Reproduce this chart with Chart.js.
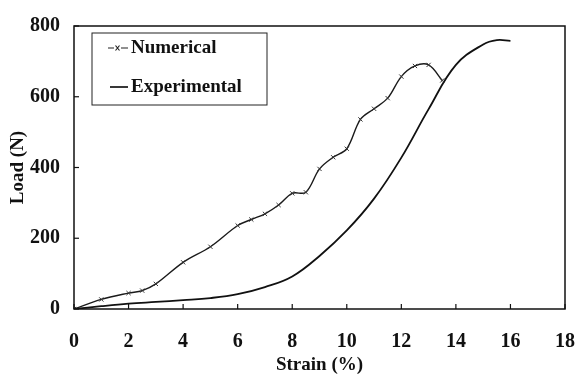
<!DOCTYPE html>
<html>
<head>
<meta charset="utf-8">
<script src="https://cdn.jsdelivr.net/npm/chart.js@4/dist/chart.umd.min.js"></script>
<style>
  html, body { margin: 0; padding: 0; background: #fff; }
  #wrap { width: 575px; height: 374px; position: relative; }
</style>
</head>
<body>
<div id="wrap"><canvas id="chart" width="575" height="374"></canvas></div>
<script>
// ---- data ----
const numStrain = [0, 1, 2, 2.5, 3, 4, 5, 6, 6.5, 7, 7.5, 8, 8.5, 9, 9.5, 10, 10.5, 11, 11.5, 12, 12.5, 13, 13.5];
const numLoad   = [0, 27, 45, 52, 71, 132, 176, 236, 253, 269, 294, 327, 330, 396, 429, 453, 536, 566, 596, 657, 687, 690, 646];

const expStrain = [0, 1, 2, 3, 4, 5, 6, 7, 8, 9, 10, 11, 12, 13, 14, 15, 15.5, 16];
const expLoad   = [0, 8, 15, 20, 25, 31, 42, 62, 92, 150, 222, 312, 428, 565, 690, 748, 760, 758];

const xTicks = [0, 2, 4, 6, 8, 10, 12, 14, 16, 18];
const yTicks = [0, 200, 400, 600, 800];

const seriesNames = ['Numerical', 'Experimental'];

const FONT = '"Liberation Serif", "Times New Roman", serif';

function toXY(xs, ys) {
  return xs.map((x, i) => ({ x: x, y: ys[i] }));
}

// frame, inward ticks and boxed legend
const framePlugin = {
  id: 'frame',
  afterDraw(chart) {
    const { ctx, chartArea: a, scales } = chart;
    ctx.save();
    ctx.strokeStyle = '#111';
    ctx.lineWidth = 1.5;
    ctx.strokeRect(a.left, a.top, a.right - a.left, a.bottom - a.top);

    // inward ticks
    ctx.lineWidth = 1.2;
    xTicks.forEach(v => {
      const px = scales.x.getPixelForValue(v);
      ctx.beginPath();
      ctx.moveTo(px, a.bottom);
      ctx.lineTo(px, a.bottom - 5);
      ctx.stroke();
    });
    yTicks.forEach(v => {
      const py = scales.y.getPixelForValue(v);
      ctx.beginPath();
      ctx.moveTo(a.left, py);
      ctx.lineTo(a.left + 5, py);
      ctx.stroke();
    });

    // legend box
    const bx = 92, by = 33, bw = 175, bh = 72;
    ctx.lineWidth = 1;
    ctx.strokeStyle = '#222';
    ctx.strokeRect(bx, by, bw, bh);
    ctx.font = 'bold 19px ' + FONT;
    ctx.fillStyle = '#111';
    ctx.textBaseline = 'middle';

    // Numerical sample: -x-
    let ly = 48;
    ctx.lineWidth = 1.2;
    ctx.beginPath();
    ctx.moveTo(108, ly); ctx.lineTo(114, ly);
    ctx.moveTo(121, ly); ctx.lineTo(128, ly);
    ctx.stroke();
    ctx.beginPath();
    ctx.moveTo(115.5, ly - 2.5); ctx.lineTo(119.5, ly + 2.5);
    ctx.moveTo(119.5, ly - 2.5); ctx.lineTo(115.5, ly + 2.5);
    ctx.stroke();
    ctx.fillText(chart.data.datasets[0].label, 131, ly);

    // Experimental sample: —
    ly = 87;
    ctx.lineWidth = 1.8;
    ctx.beginPath();
    ctx.moveTo(110, ly); ctx.lineTo(128, ly);
    ctx.stroke();
    ctx.fillText(chart.data.datasets[1].label, 131, ly);
    ctx.restore();
  }
};

new Chart(document.getElementById('chart'), {
  type: 'scatter',
  data: {
    datasets: [
      {
        label: seriesNames[0],
        data: toXY(numStrain, numLoad),
        showLine: true,
        borderColor: '#1a1a1a',
        borderWidth: 1.4,
        tension: 0.35,
        pointStyle: 'crossRot',
        pointRadius: 3,
        pointBorderWidth: 1,
        pointBorderColor: '#333',
        pointBackgroundColor: '#333'
      },
      {
        label: seriesNames[1],
        data: toXY(expStrain, expLoad),
        showLine: true,
        borderColor: '#111',
        borderWidth: 1.8,
        tension: 0.4,
        pointRadius: 0
      }
    ]
  },
  options: {
    responsive: false,
    animation: false,
    layout: { padding: { top: 18, right: 10, bottom: 0, left: 0 } },
    plugins: {
      legend: { display: false },
      tooltip: { enabled: false }
    },
    scales: {
      x: {
        type: 'linear',
        min: 0,
        max: 18,
        afterBuildTicks(scale) { scale.ticks = xTicks.map(v => ({ value: v })); },
        afterFit(scale) {
          scale.height = 65;
          scale.paddingLeft = 0;
          scale.paddingRight = 0;
        },
        grid: { display: false, drawTicks: false },
        border: { display: false },
        ticks: {
          color: '#111',
          padding: 21,
          font: { family: FONT, size: 20, weight: 'bold' }
        },
        title: {
          display: true,
          text: 'Strain (%)',
          color: '#111',
          padding: { top: 0, bottom: -2 },
          font: { family: FONT, size: 19, weight: 'bold' }
        }
      },
      y: {
        type: 'linear',
        min: 0,
        max: 800,
        afterBuildTicks(scale) { scale.ticks = yTicks.map(v => ({ value: v })); },
        afterFit(scale) { scale.width = 74; },
        grid: { display: false, drawTicks: false },
        border: { display: false },
        ticks: {
          color: '#111',
          padding: 14,
          font: { family: FONT, size: 20, weight: 'bold' }
        },
        title: {
          display: true,
          text: 'Load (N)',
          color: '#111',
          padding: { top: 7, bottom: 0 },
          font: { family: FONT, size: 19, weight: 'bold' }
        }
      }
    }
  },
  plugins: [framePlugin]
});
</script>
</body>
</html>
